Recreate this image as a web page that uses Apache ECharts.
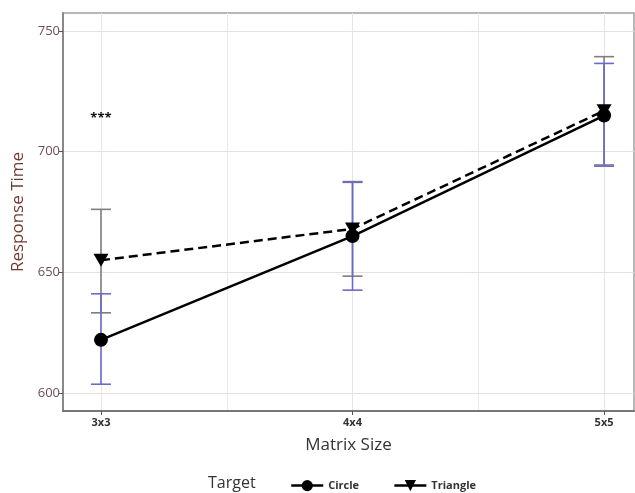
<!DOCTYPE html>
<html>
<head>
<meta charset="utf-8">
<script src="https://cdn.jsdelivr.net/npm/echarts@6/dist/echarts.min.js"></script>
<style>
  html, body { margin: 0; padding: 0; background: #fff; }
  #chart { width: 635px; height: 493px; }
</style>
</head>
<body>
<div id="chart"></div>
<script>
// Categories along the x axis (plotted at positions 1, 2, 3)
const matrixSizes = ['3x3', '4x4', '5x5'];

// Mean response time per target shape
const circleMean   = [622, 665, 715];
const triangleMean = [655, 668, 717];

// Error bar limits
const circleLow    = [603.6, 642.6, 694.0];
const circleHigh   = [641.1, 687.3, 736.6];
const triangleLow  = [633.2, 648.4, 694.5];
const triangleHigh = [676.1, 687.6, 739.4];

// Y axis tick labels
const yTicks = [600, 650, 700, 750];

// Significance marker above the 3x3 group
const sigLabel = '***';
const sigValue = 714;

const FONT = '"Open Sans", "DejaVu Sans", sans-serif';

const pos = matrixSizes.map((_, i) => i + 1);
const pairs = (ys) => ys.map((y, i) => [pos[i], y]);
const barData = (lo, hi) => lo.map((l, i) => [pos[i], l, hi[i]]);

function errorBars(color) {
  return function (params, api) {
    const x = api.value(0);
    const p1 = api.coord([x, api.value(1)]);
    const p2 = api.coord([x, api.value(2)]);
    const w = 10;
    const style = { stroke: color, lineWidth: 1.6 };
    return {
      type: 'group',
      children: [
        { type: 'line', shape: { x1: p1[0], y1: p1[1], x2: p2[0], y2: p2[1] }, style },
        { type: 'line', shape: { x1: p1[0] - w, y1: p1[1], x2: p1[0] + w, y2: p1[1] }, style },
        { type: 'line', shape: { x1: p2[0] - w, y1: p2[1], x2: p2[0] + w, y2: p2[1] }, style }
      ]
    };
  };
}

const downTriangle = 'path://M0,0 L12,0 L6,10 Z';

const chart = echarts.init(document.getElementById('chart'), null, { renderer: 'canvas' });

chart.setOption({
  animation: false,
  backgroundColor: '#ffffff',
  textStyle: { fontFamily: FONT },
  grid: {
    left: 63, top: 13, right: 1, bottom: 82,
    show: true, borderColor: '#a0a0a0', borderWidth: 1.5,
    containLabel: false
  },
  xAxis: [
    {
      type: 'value',
      min: 0.849, max: 3.119,
      name: 'Matrix Size',
      nameLocation: 'middle',
      nameGap: 26,
      nameTextStyle: { fontSize: 17, color: '#333', fontFamily: FONT },
      axisLine: { show: true, lineStyle: { color: '#777', width: 2 } },
      axisTick: { show: true, length: 4, lineStyle: { color: '#555' }, customValues: pos },
      axisLabel: {
        customValues: pos,
        margin: 6,
        fontSize: 11,
        fontWeight: 'bold',
        color: '#333',
        formatter: (v) => matrixSizes[Math.round(v) - 1]
      },
      splitLine: { show: true, lineStyle: { color: '#e9e4e4', width: 1 } }
    },
    {
      // faint in-between vertical grid lines
      type: 'value',
      min: 0.849, max: 3.119,
      gridIndex: 0,
      position: 'bottom',
      axisLine: { show: false },
      axisTick: { show: false, customValues: [1.5, 2.5] },
      axisLabel: { show: false, customValues: [1.5, 2.5] },
      splitLine: { show: true, lineStyle: { color: '#ede8e8', width: 1 } }
    }
  ],
  yAxis: {
    type: 'value',
    min: 592.5, max: 757.5,
    name: 'Response Time',
    nameLocation: 'middle',
    nameGap: 35,
    nameTextStyle: { fontSize: 17, color: '#6e3a30', fontFamily: FONT },
    axisLine: { show: true, lineStyle: { color: '#888', width: 2 } },
    axisTick: { show: true, length: 4, lineStyle: { color: '#555' }, customValues: yTicks },
    axisLabel: { customValues: yTicks, margin: 3, fontSize: 13, color: '#6a4f55' },
    splitLine: { show: true, lineStyle: { color: '#e8e0e0', width: 1 } }
  },
  legend: {
    left: 285,
    top: 475,
    itemWidth: 32,
    itemHeight: 14,
    itemGap: 34,
    textStyle: { fontSize: 11, fontWeight: 'bold', color: '#333', fontFamily: FONT },
    lineStyle: { type: 'solid', width: 2.5 },
    data: ['Circle', 'Triangle']
  },
  graphic: [
    {
      type: 'text',
      left: 208,
      top: 475,
      style: { text: 'Target', fill: '#333', font: '16px ' + FONT }
    }
  ],
  series: [
    {
      name: 'Triangle bars',
      type: 'custom',
      renderItem: errorBars('#7f7f7f'),
      encode: { x: 0, y: [1, 2] },
      data: barData(triangleLow, triangleHigh),
      z: 1,
      silent: true
    },
    {
      name: 'Circle bars',
      type: 'custom',
      renderItem: errorBars('#6a6acc'),
      encode: { x: 0, y: [1, 2] },
      data: barData(circleLow, circleHigh),
      z: 2,
      silent: true
    },
    {
      name: 'Circle',
      type: 'line',
      data: pairs(circleMean),
      symbol: 'circle',
      symbolSize: 14,
      itemStyle: { color: '#000' },
      lineStyle: { color: '#000', width: 2.5, type: 'solid' },
      z: 3,
      markPoint: {
        symbol: 'circle',
        symbolSize: 0,
        data: [{ coord: [pos[0], sigValue] }],
        label: {
          show: true,
          position: 'inside',
          formatter: sigLabel,
          fontSize: 13,
          fontWeight: 'bold',
          color: '#111'
        }
      }
    },
    {
      name: 'Triangle',
      type: 'line',
      data: pairs(triangleMean),
      symbol: downTriangle,
      symbolSize: [15, 13],
      itemStyle: { color: '#000' },
      lineStyle: { color: '#000', width: 2.5, type: [9, 5] },
      z: 4
    }
  ]
});
</script>
</body>
</html>
